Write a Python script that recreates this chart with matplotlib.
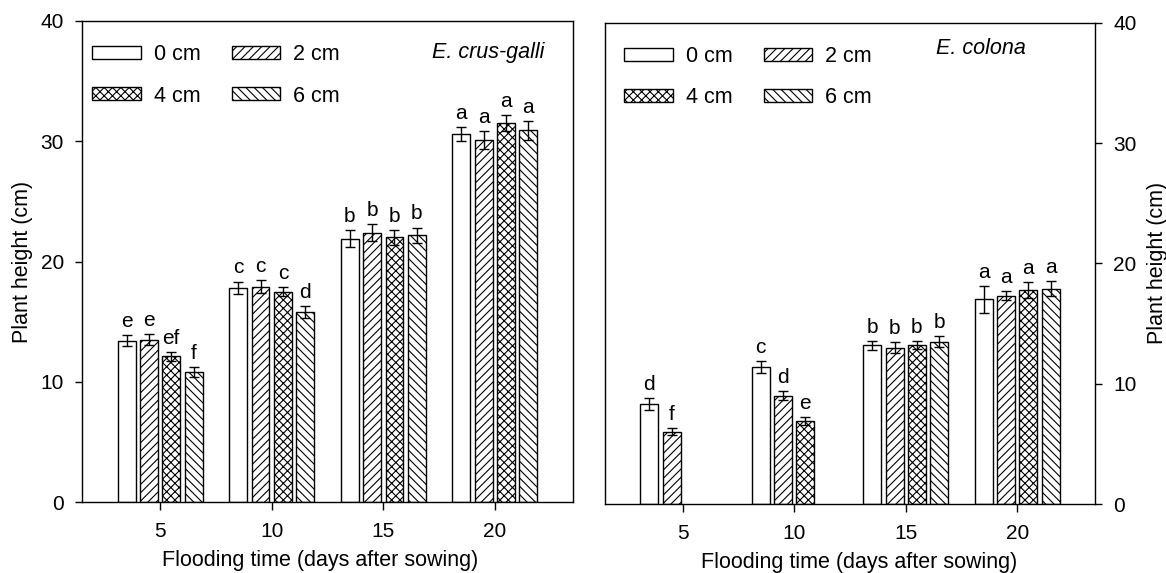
import numpy as np
import matplotlib.pyplot as plt

plt.rcParams['font.family'] = ['Liberation Sans', 'DejaVu Sans']
plt.rcParams['hatch.linewidth'] = 0.8

# --- dados ---
days = [5, 10, 15, 20]
depths = ['0 cm', '2 cm', '4 cm', '6 cm']
hatches = ['', '////', 'xxxx', '\\\\\\\\']

# E. crus-galli (media, erro, letras) por profundidade
cg_mean = {
    '0 cm': [13.4, 17.8, 21.9, 30.6],
    '2 cm': [13.5, 17.9, 22.4, 30.1],
    '4 cm': [12.1, 17.5, 22.0, 31.5],
    '6 cm': [10.8, 15.8, 22.2, 30.9],
}
cg_err = {
    '0 cm': [0.45, 0.53, 0.72, 0.6],
    '2 cm': [0.47, 0.55, 0.69, 0.73],
    '4 cm': [0.40, 0.35, 0.62, 0.65],
    '6 cm': [0.40, 0.48, 0.62, 0.76],
}
cg_letters = {
    '0 cm': ['e', 'c', 'b', 'a'],
    '2 cm': ['e', 'c', 'b', 'a'],
    '4 cm': ['ef', 'c', 'b', 'a'],
    '6 cm': ['f', 'd', 'b', 'a'],
}

# E. colona (None = sem planta)
ec_mean = {
    '0 cm': [8.3, 11.4, 13.2, 17.0],
    '2 cm': [6.0, 9.0, 13.0, 17.3],
    '4 cm': [None, 6.9, 13.2, 17.8],
    '6 cm': [None, None, 13.5, 17.9],
}
ec_err = {
    '0 cm': [0.47, 0.50, 0.36, 1.1],
    '2 cm': [0.29, 0.37, 0.48, 0.37],
    '4 cm': [None, 0.30, 0.35, 0.65],
    '6 cm': [None, None, 0.48, 0.62],
}
ec_letters = {
    '0 cm': ['d', 'c', 'b', 'a'],
    '2 cm': ['f', 'd', 'b', 'a'],
    '4 cm': [None, 'e', 'b', 'a'],
    '6 cm': [None, None, 'b', 'a'],
}

FS = 15
W, H = 1166, 573
fig = plt.figure(figsize=(W / 100, H / 100), dpi=100)
ax1 = fig.add_axes([82 / W, 71 / H, 491 / W, 481 / H])
ax2 = fig.add_axes([604.7 / W, 69 / H, 490.6 / W, 481.3 / H])

offsets = [-1.5, -0.5, 0.5, 1.5]


def draw_panel(ax, means, errs, letters):
    handles = []
    for k, d in enumerate(depths):
        xs, ys, es, ls = [], [], [], []
        for i, day in enumerate(days):
            if means[d][i] is None:
                continue
            xs.append(day + offsets[k])
            ys.append(means[d][i])
            es.append(errs[d][i])
            ls.append(letters[d][i])
        b = ax.bar(xs, ys, width=0.8, color='white', edgecolor='black',
                   linewidth=1.0, hatch=hatches[k], label=d, zorder=2)
        ax.errorbar(xs, ys, yerr=es, fmt='none', ecolor='black',
                    elinewidth=1.0, capsize=3.6, capthick=1.0, zorder=3)
        for x, y, e, l in zip(xs, ys, es, ls):
            ax.annotate(l, (x, y + e), xytext=(0, 3), textcoords='offset points',
                        ha='center', va='bottom', fontsize=FS)
        handles.append(b)
    ax.set_xlim(1.5, 23.5)
    ax.set_ylim(0, 40)
    ax.set_xticks(days)
    ax.set_yticks([0, 10, 20, 30, 40])
    ax.tick_params(direction='out', width=1, labelsize=15)
    ax.tick_params(axis='x', length=6, pad=8.5)
    ax.tick_params(axis='y', length=5, pad=8)
    ax.set_xlabel('Flooding time (days after sowing)', fontsize=15.5)
    ax.set_ylabel('Plant height (cm)', fontsize=15.5)
    for s in ax.spines.values():
        s.set_linewidth(1.0)
    order = [0, 2, 1, 3]
    ax.legend([handles[i] for i in order], [depths[i] for i in order],
              ncol=2, frameon=False, fontsize=15.5, loc='upper left',
              handlelength=2.25, handleheight=0.56, handletextpad=0.6,
              columnspacing=1.45, labelspacing=0.95, borderaxespad=0,
              borderpad=0)
    return handles


draw_panel(ax1, cg_mean, cg_err, cg_letters)
ax1.legend_.set_bbox_to_anchor((0.021, 0.952), transform=ax1.transAxes)
ax1.text(0.941, 0.935, 'E. crus-galli', style='italic', fontsize=15.5,
         ha='right', va='center', transform=ax1.transAxes)
ax1.xaxis.set_label_coords(0.485, -0.1)
ax1.yaxis.set_label_coords(-0.1, 0.5)

draw_panel(ax2, ec_mean, ec_err, ec_letters)
ax2.legend_.set_bbox_to_anchor((0.04, 0.952), transform=ax2.transAxes)
ax2.text(0.676, 0.947, 'E. colona', style='italic', fontsize=15.5,
         ha='left', va='center', transform=ax2.transAxes)
ax2.yaxis.tick_right()
ax2.yaxis.set_label_position('right')
ax2.xaxis.set_label_coords(0.519, -0.1)
ax2.yaxis.set_label_coords(1.105, 0.5)

fig.savefig('out.png', dpi=100)
